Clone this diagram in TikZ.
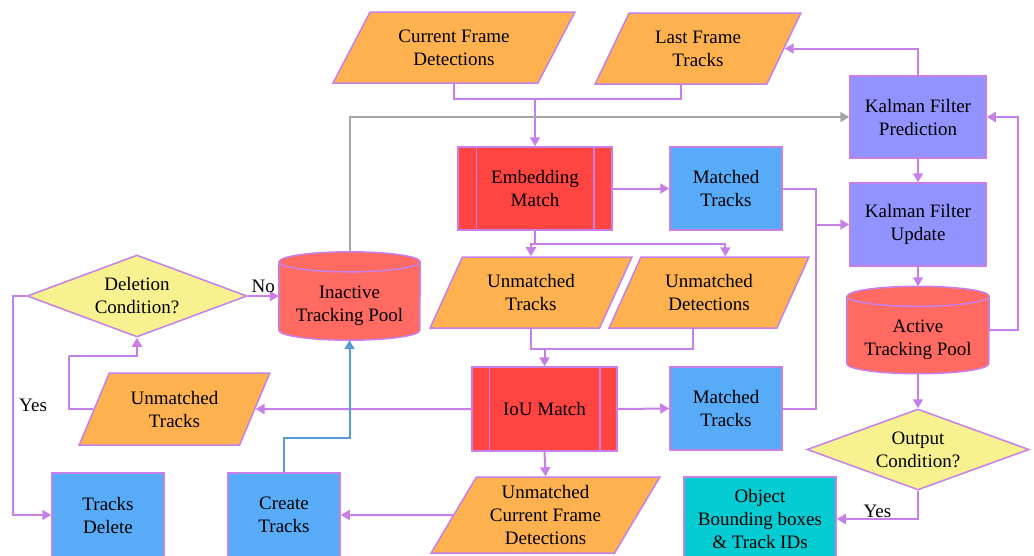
\documentclass[tikz,border=0pt]{standalone}
\usepackage{fontspec}
\setmainfont{Liberation Serif}
\newfontfamily\tnrfont{Liberation Serif}
\usetikzlibrary{shapes.geometric,arrows.meta,calc,backgrounds}
\definecolor{bord}{HTML}{C680E8}
\definecolor{orng}{HTML}{FDB14F}
\definecolor{redbox}{HTML}{FF4542}
\definecolor{bluebox}{HTML}{58ABF6}
\definecolor{kalman}{HTML}{9393FF}
\definecolor{cylred}{HTML}{FF6A63}
\definecolor{yel}{HTML}{F7F28F}
\definecolor{teal}{HTML}{05CBD3}
\definecolor{grayline}{HTML}{A6A6A6}
\definecolor{blueline}{HTML}{5B9BD5}
\newcommand{\drawcyl}[2]{%
  \path[base, fill=cylred] ($(#1.north west)+(0,-10)$) -- ($(#1.south west)+(0,-10)$)
     arc[start angle=180, end angle=360, x radius=#2, y radius=10pt]
     -- ($(#1.north east)+(0,-10)$)
     arc[start angle=0, end angle=180, x radius=#2, y radius=10pt] -- cycle;
  \draw[base] ($(#1.north west)+(0,-10)$) arc[start angle=180, end angle=360, x radius=#2, y radius=10pt];
}
\begin{document}
\begin{tikzpicture}[x=1pt,y=-1pt,
  every node/.style={font=\tnrfont\fontsize{19}{23}\selectfont, align=center, inner sep=2pt},
  base/.style={draw=bord, line width=1.5pt},
  rbox/.style={base, rectangle, inner sep=0pt},
  para/.style={base, fill=orng, trapezium, trapezium stretches=true, inner sep=1pt},
  conn/.style={draw=bord, line width=2pt},
  arr/.style={conn, -{Triangle[length=9pt,width=10pt]}},
  lbl/.style={inner sep=2pt},
  holder/.style={rectangle, inner sep=0pt, draw=none}
]
\useasboundingbox (0,0) rectangle (1034,555);

% top inputs
\node[para, trapezium left angle=56.5, trapezium right angle=123.5, minimum width=242pt, minimum height=71pt] (cfd) at (454,47.5) {Current Frame\\Detections};
\node[para, trapezium left angle=60, trapezium right angle=120, minimum width=206pt, minimum height=71pt] (lft) at (698,48.5) {Last Frame\\Tracks};

% embedding stage
\node[rbox, fill=redbox, minimum width=154pt, minimum height=83pt] (emb) at (535,188.5) {Embedding\\Match};
\draw[base] ($(emb.north west)+(19,0)$) -- ($(emb.south west)+(19,0)$);
\draw[base] ($(emb.north east)+(-19,0)$) -- ($(emb.south east)+(-19,0)$);
\node[rbox, fill=bluebox, minimum width=112pt, minimum height=83pt] (mt1) at (726,188.5) {Matched\\Tracks};

% Kalman
\node[rbox, fill=kalman, minimum width=136pt, minimum height=82pt] (kfp) at (918,117) {Kalman Filter\\Prediction};
\node[rbox, fill=kalman, minimum width=136pt, minimum height=83pt] (kfu) at (918,224.5) {Kalman Filter\\Update};
\node[holder, minimum width=142pt, minimum height=67pt] (act) at (918,340) {Active\\Tracking Pool};

% unmatched after embedding
\node[para, trapezium left angle=61.2, trapezium right angle=118.8, minimum width=202pt, minimum height=71pt] (umt1) at (531,292.5) {Unmatched\\Tracks};
\node[para, trapezium left angle=61.2, trapezium right angle=118.8, minimum width=200pt, minimum height=71pt] (umd) at (709,292.5) {Unmatched\\Detections};

% left side
\node[diamond, base, fill=yel, aspect=2.7, inner sep=0pt, minimum width=220pt, minimum height=82pt] (del) at (137,296) {Deletion\\Condition?};
\node[holder, minimum width=141pt, minimum height=68pt] (inact) at (349.5,306) {Inactive\\Tracking Pool};

\begin{scope}[on background layer]
  \drawcyl{act}{71pt}
  \drawcyl{inact}{70.5pt}
\end{scope}

% IoU stage
\node[rbox, fill=redbox, minimum width=145pt, minimum height=84pt] (iou) at (544.5,409) {IoU Match};
\draw[base] ($(iou.north west)+(18,0)$) -- ($(iou.south west)+(18,0)$);
\draw[base] ($(iou.north east)+(-18,0)$) -- ($(iou.south east)+(-18,0)$);
\node[rbox, fill=bluebox, minimum width=112pt, minimum height=83pt] (mt2) at (726,408.5) {Matched\\Tracks};
\node[para, trapezium left angle=61.6, trapezium right angle=118.4, minimum width=191pt, minimum height=72pt] (umt2) at (174.5,409) {Unmatched\\Tracks};
\node[para, trapezium left angle=58.8, trapezium right angle=121.2, minimum width=229pt, minimum height=76pt] (ucfd) at (545.5,515) {Unmatched\\Current Frame\\Detections};

% bottom boxes
\node[rbox, fill=bluebox, minimum width=112pt, minimum height=84pt] (tdel) at (108,515) {Tracks\\Delete};
\node[rbox, fill=bluebox, minimum width=112pt, minimum height=84pt] (ctr) at (284,515) {Create\\Tracks};
\node[diamond, base, fill=yel, aspect=2.7, inner sep=0pt, minimum width=222pt, minimum height=81pt] (out) at (918,449.5) {Output\\Condition?};
\node[rbox, fill=teal, minimum width=152pt, minimum height=84pt] (obj) at (760,519) {Object\\Bounding boxes\\\& Track IDs};

% connectors
\coordinate (j1) at (535,98);
\draw[conn] (cfd.south) -- ++(0,15) -| (lft.bottom side);
\draw[arr] (j1) -- (emb.north);
\draw[draw=grayline, line width=2pt, -{Triangle[length=9pt,width=10pt]}, color=grayline] ($(inact.north)+(0,-20)$) |- (kfp.west);
\draw[arr] (emb.east) -- (mt1.west);
\coordinate (m) at (816,224.5);
\draw[conn] (mt1.east) -| (m);
\draw[conn] (mt2.east) -| (m);
\draw[arr] (m) -- (kfu.west);
\draw[arr] (kfp.south) -- (kfu.north);
\draw[arr] (kfu.south) -- ($(act.north)+(0,-20)$);
\draw[arr] ($(act.east)+(0,-10)$) -- ++(29,0) |- (kfp.east);
\draw[arr] (kfp.north) |- (lft);
\coordinate (b1) at (535,244);
\draw[conn] (emb.south) -- (b1);
\draw[arr] (b1) -| (umt1.north);
\draw[arr] (b1) -| (umd.top side);
\draw[conn] (umt1.south) -- ++(0,20) -| (umd.bottom side);
\coordinate (j3) at (544.5,348);
\draw[arr] (j3) -- (iou.north);
\draw[arr] (del.east) -- (del.east -| inact.west) node[midway, above, lbl] {No};
\draw[arr] (iou.west) -- (umt2);
\draw[arr] (iou.east) -- (mt2.west);
\draw[arr] (iou.south) -- (ucfd.north);
\draw[arr] (ucfd) -- (ctr.east);
\draw[draw=blueline, line width=2pt, -{Triangle[length=9pt,width=10pt]}, color=blueline] (ctr.north) -- ++(0,-34) -| (inact.south);
\coordinate (c1) at (69,356);
\draw[conn] (umt2.left side) -| (c1);
\draw[arr] (c1) -| (del.south);
\draw[arr] (del.west) -- ++(-13,0) |- (tdel.west) node[pos=0.25, right, lbl, inner sep=5pt] {Yes};
\draw[arr] (act.south) -- (out.north);
\draw[arr] (out.south) |- (obj.east) node[pos=0.75, above, lbl, inner sep=0.5pt] {Yes};
\end{tikzpicture}
\end{document}
